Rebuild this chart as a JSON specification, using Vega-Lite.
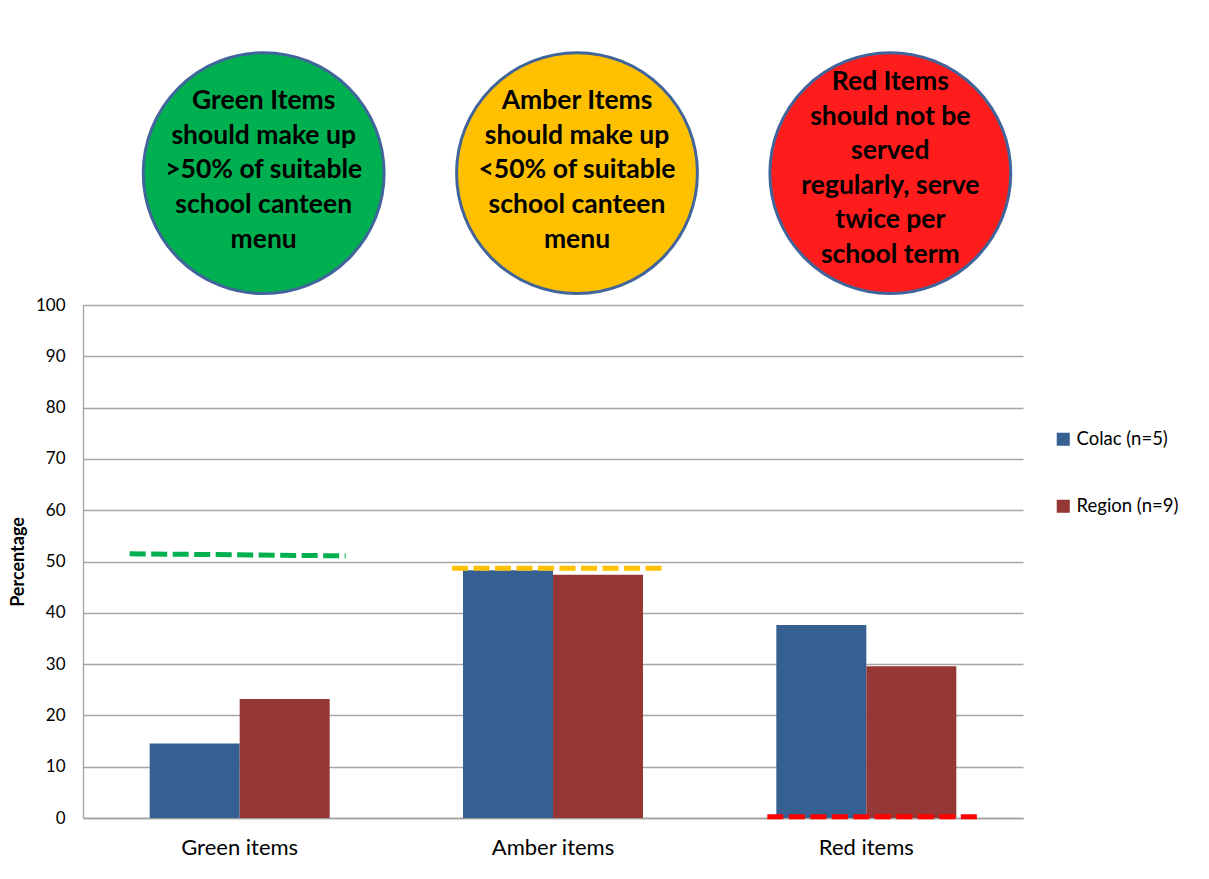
{
  "$schema": "https://vega.github.io/schema/vega-lite/v6.json",
  "width": 940,
  "height": 513,
  "autosize": {"type": "none"},
  "padding": {"left": 83, "top": 305, "right": 186, "bottom": 61},
  "background": "white",
  "config": {
    "font": "Lato",
    "view": {"stroke": null},
    "axis": {"labelColor": "#000000", "titleColor": "#000000"}
  },
  "datasets": {
    "bars": [
      {"item": "Green items", "group": "Colac (n=5)", "pct": 14.5},
      {"item": "Green items", "group": "Region (n=9)", "pct": 23.2},
      {"item": "Amber items", "group": "Colac (n=5)", "pct": 48.3},
      {"item": "Amber items", "group": "Region (n=9)", "pct": 47.4},
      {"item": "Red items", "group": "Colac (n=5)", "pct": 37.6},
      {"item": "Red items", "group": "Region (n=9)", "pct": 29.6}
    ],
    "targets": [
      {"item": "Green items", "start": 51.5, "end": 51.1},
      {"item": "Amber items", "start": 48.7, "end": 48.7},
      {"item": "Red items", "start": 0.25, "end": 0.25}
    ],
    "notes": [
      {"item": "Green items", "fill": "green", "lines": 5, "note": "Green Items\nshould make up\n>50%  of suitable\nschool canteen\nmenu"},
      {"item": "Amber items", "fill": "amber", "lines": 5, "note": "Amber Items\nshould make up\n<50% of suitable\nschool canteen\nmenu"},
      {"item": "Red items", "fill": "red", "lines": 6, "note": "Red Items\nshould not be\nserved\nregularly, serve\ntwice per\nschool term"}
    ]
  },
  "encoding": {
    "x": {
      "field": "item",
      "type": "nominal",
      "sort": ["Green items", "Amber items", "Red items"],
      "scale": {
        "domain": ["Green items", "Amber items", "Red items"],
        "paddingInner": 0.4255,
        "paddingOuter": 0.2128
      },
      "axis": {
        "title": null,
        "labelAngle": 0,
        "labelFontSize": 22,
        "labelPadding": 19,
        "ticks": false,
        "domainColor": "#a0a0a0",
        "domainWidth": 1.5,
        "grid": false
      }
    }
  },
  "layer": [
    {
      "data": {"name": "bars"},
      "mark": {"type": "bar"},
      "encoding": {
        "xOffset": {
          "field": "group",
          "type": "nominal",
          "sort": ["Colac (n=5)", "Region (n=9)"],
          "scale": {"paddingInner": 0, "paddingOuter": 0}
        },
        "y": {
          "field": "pct",
          "type": "quantitative",
          "scale": {"domain": [0, 100], "nice": false},
          "axis": {
            "values": [0, 10, 20, 30, 40, 50, 60, 70, 80, 90, 100],
            "title": "Percentage",
            "titleFontSize": 18,
            "titleFontWeight": "bold",
            "titlePadding": 8,
            "labelFontSize": 17,
            "labelPadding": 18,
            "ticks": false,
            "grid": true,
            "gridColor": "#a6a6a6",
            "gridWidth": 1.3,
            "domainColor": "#a0a0a0",
            "domainWidth": 1.3
          }
        },
        "color": {
          "field": "group",
          "type": "nominal",
          "sort": ["Colac (n=5)", "Region (n=9)"],
          "scale": {"domain": ["Colac (n=5)", "Region (n=9)"], "range": ["#376092", "#953735"]},
          "legend": {
            "title": null,
            "orient": "none",
            "legendX": 971,
            "legendY": 125,
            "direction": "vertical",
            "symbolType": "square",
            "symbolSize": 170,
            "symbolStrokeWidth": 0,
            "labelFontSize": 18.5,
            "labelOffset": 4,
            "rowPadding": 48
          }
        }
      }
    },
    {
      "data": {"name": "targets"},
      "transform": [{"filter": "datum.item === 'Green items'"}],
      "mark": {"type": "rule", "color": "#00b050", "strokeWidth": 5, "strokeDash": [16, 5.5], "xOffset": -110, "x2Offset": 106},
      "encoding": {
        "x2": {"field": "item"},
        "y": {"field": "start", "type": "quantitative"},
        "y2": {"field": "end"}
      }
    },
    {
      "data": {"name": "targets"},
      "transform": [{"filter": "datum.item === 'Amber items'"}],
      "mark": {"type": "rule", "color": "#ffc000", "strokeWidth": 5, "strokeDash": [16, 5.5], "xOffset": -101, "x2Offset": 112},
      "encoding": {
        "x2": {"field": "item"},
        "y": {"field": "start", "type": "quantitative"},
        "y2": {"field": "end"}
      }
    },
    {
      "data": {"name": "targets"},
      "transform": [{"filter": "datum.item === 'Red items'"}],
      "mark": {"type": "rule", "color": "#ff0000", "strokeWidth": 5, "strokeDash": [16, 5.5], "xOffset": -99, "x2Offset": 114},
      "encoding": {
        "x2": {"field": "item"},
        "y": {"field": "start", "type": "quantitative"},
        "y2": {"field": "end"}
      }
    },
    {
      "data": {"name": "notes"},
      "mark": {"type": "point", "shape": "circle", "filled": true, "size": 58000, "opacity": 1, "stroke": "#41659a", "strokeWidth": 3, "xOffset": 24},
      "encoding": {
        "y": {"datum": 125.7, "type": "quantitative"},
        "fill": {
          "field": "fill",
          "type": "nominal",
          "scale": {"domain": ["green", "amber", "red"], "range": ["#00b050", "#ffc000", "#ff1c1c"]},
          "legend": null
        }
      }
    },
    {
      "data": {"name": "notes"},
      "transform": [{"filter": "datum.lines === 5"}],
      "mark": {"type": "text", "fontSize": 26.5, "fontWeight": "bold", "lineHeight": 34.7, "lineBreak": "\n", "align": "center", "baseline": "middle", "color": "#000000", "xOffset": 24, "yOffset": -69},
      "encoding": {
        "y": {"datum": 126.3, "type": "quantitative"},
        "text": {"field": "note"}
      }
    },
    {
      "data": {"name": "notes"},
      "transform": [{"filter": "datum.lines === 6"}],
      "mark": {"type": "text", "fontSize": 26.5, "fontWeight": "bold", "lineHeight": 34.5, "lineBreak": "\n", "align": "center", "baseline": "middle", "color": "#000000", "xOffset": 24, "yOffset": -88},
      "encoding": {
        "y": {"datum": 126.3, "type": "quantitative"},
        "text": {"field": "note"}
      }
    }
  ]
}
